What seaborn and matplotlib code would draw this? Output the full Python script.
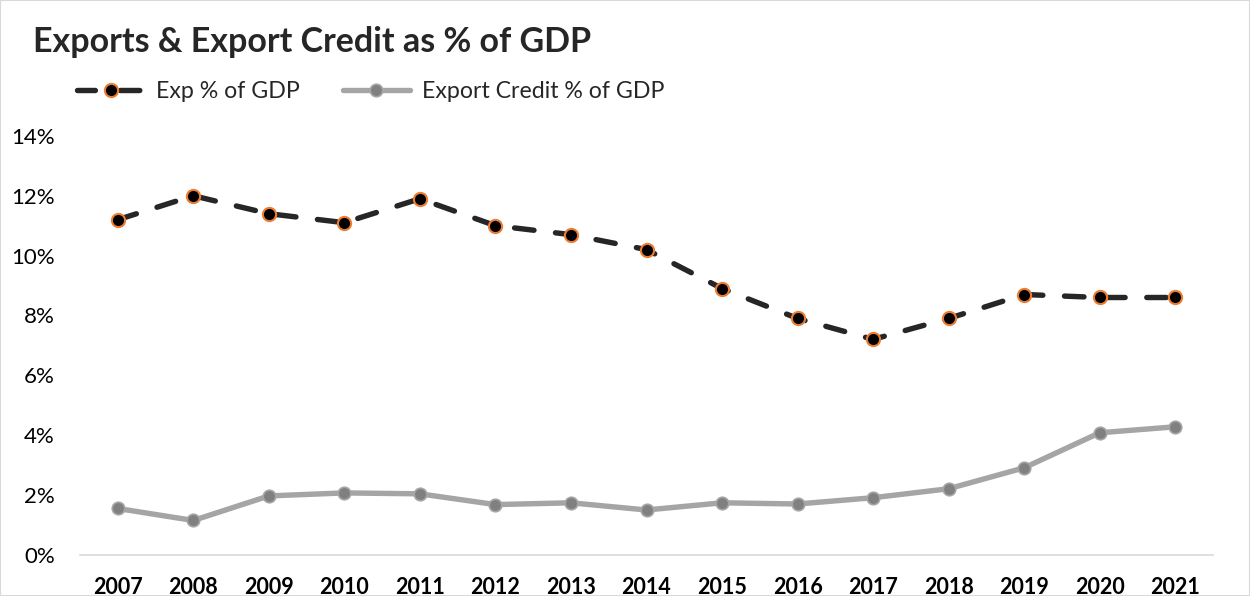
import matplotlib
matplotlib.use("Agg")
import matplotlib.pyplot as plt
from matplotlib.lines import Line2D
import seaborn as sns
import pandas as pd

years = ["2007", "2008", "2009", "2010", "2011", "2012", "2013", "2014",
         "2015", "2016", "2017", "2018", "2019", "2020", "2021"]
exp_pct_gdp = [11.2, 12.0, 11.4, 11.1, 11.9, 11.0, 10.7, 10.2,
               8.9, 7.9, 7.2, 7.9, 8.7, 8.6, 8.6]
credit_pct_gdp = [1.55, 1.15, 1.97, 2.07, 2.04, 1.68, 1.74, 1.50,
                  1.74, 1.70, 1.91, 2.21, 2.91, 4.08, 4.28]
series_names = ["Exp % of GDP", "Export Credit % of GDP"]
y_ticks = [0, 2, 4, 6, 8, 10, 12, 14]

sns.set_style("white")
plt.rcParams["font.family"] = ["Lato", "DejaVu Sans"]

fig = plt.figure(figsize=(12.5, 5.96), dpi=100)
ax = fig.add_axes([0.064, 0.069, 0.9064, 0.703])

df_exp = pd.DataFrame({"year": years, "value": exp_pct_gdp})
df_cr = pd.DataFrame({"year": years, "value": credit_pct_gdp})

exp_style = dict(color="#262626", lw=3.9, marker="o", markersize=9.5,
                 markerfacecolor="black", markeredgecolor="#ed7d31",
                 markeredgewidth=1.5, dash_capstyle="round")
cr_style = dict(color="#a5a5a5", lw=3.9, marker="o", markersize=9,
                markerfacecolor="#808080", markeredgecolor="#a5a5a5",
                markeredgewidth=1.2, solid_capstyle="round")

sns.lineplot(data=df_cr, x="year", y="value", ax=ax, sort=False, **cr_style)
sns.lineplot(data=df_exp, x="year", y="value", ax=ax, sort=False,
             linestyle=(0, (3.6, 4.0)), **exp_style)

ax.set_xlim(-0.5, len(years) - 0.5)
ax.set_ylim(0, 14)
ax.set_yticks(y_ticks)
ax.set_yticklabels([f"{v}%" for v in y_ticks], fontsize=16)
ax.set_xticks(range(len(years)))
ax.set_xticklabels(years, fontsize=15.5, fontweight="bold")
ax.set_xlabel("")
ax.set_ylabel("")
ax.tick_params(axis="both", length=0, colors="black")
ax.tick_params(axis="y", pad=18)
ax.tick_params(axis="x", pad=16)
for side in ["left", "right", "top"]:
    ax.spines[side].set_visible(False)
ax.spines["bottom"].set_color("#d9d9d9")
ax.spines["bottom"].set_linewidth(1.2)

fig.text(0.0264, 1 - 52 / 596, "Exports & Export Credit as % of GDP",
         fontsize=24.5, fontweight="bold", va="baseline", ha="left")

handles = [
    Line2D([], [], linestyle=(0.3, (3.6, 4.6)), **exp_style),
    Line2D([], [], **cr_style),
]
fig.legend(handles, series_names, loc="center left",
           bbox_to_anchor=(77 / 1250, 1 - 92 / 596), ncol=2, frameon=False,
           fontsize=16.7, handlelength=2.9, handletextpad=0.5,
           columnspacing=1.85, borderpad=0, borderaxespad=0)

fig.patches.append(plt.Rectangle((0, 0), 1, 1, transform=fig.transFigure,
                                 fill=False, edgecolor="#d9d9d9", lw=1.5))

fig.savefig("out.png", dpi=100)
